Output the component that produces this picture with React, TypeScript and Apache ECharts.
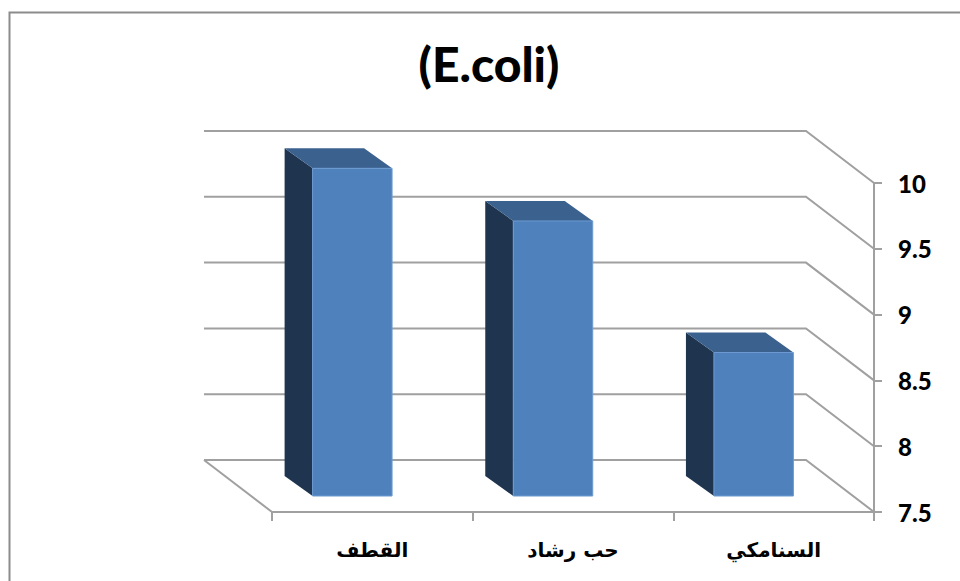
import React, { useEffect, useRef } from "react";
import * as echarts from "echarts";

const titleText = "(E.coli)";
const categories = ["القطف", "حب رشاد", "السنامكي"];
const values = [9.99, 9.59, 8.59];
const wallTicks = [7.5, 8, 8.5, 9, 9.5, 10];
const axisMin = 7.5;
const axisMax = 10;
const axisStep = 0.5;

const GRID = { left: 272, top: 183, width: 602, height: 329 };
const WALL = { dx: -68, dy: -52 };
const BAR_FRONT = { dx: -20, dy: -16 };
const BAR_BACK = { dx: -48, dy: -36 };
const BAR_RATIO = 0.396;
const LINE = "#a0a0a0";
const FRONT = "#4f81bd";
const EDGE = "#6d9ad0";
const SIDE = "#1f344f";
const TOP = "#3b618f";

export default function App() {
  const ref = useRef<HTMLDivElement>(null);
  useEffect(() => {
    document.body.style.margin = "0";
    const chart = echarts.init(ref.current!, null, { renderer: "svg" });
    chart.setOption({
      animation: false,
      backgroundColor: "#ffffff",
      title: {
        text: titleText,
        left: 484,
        top: 34,
        textAlign: "center",
        textStyle: { fontFamily: "Lato", fontWeight: 900, fontSize: 48, color: "#000" },
      },
      graphic: [
        {
          type: "polyline",
          silent: true,
          shape: { points: [[9.5, 581], [9.5, 12.5], [960, 12.5]] },
          style: { stroke: "#8c8c8c", fill: "none", lineWidth: 2 },
        },
      ],
      grid: GRID,
      xAxis: {
        type: "category",
        data: categories,
        axisLine: { lineStyle: { color: LINE, width: 2 } },
        axisTick: { show: true, length: 9, lineStyle: { color: LINE, width: 2 } },
        axisLabel: {
          margin: 28,
          fontFamily: "DejaVu Sans",
          fontWeight: "bold",
          fontSize: 20,
          color: "#000",
        },
        splitLine: { show: false },
      },
      yAxis: {
        type: "value",
        position: "right",
        min: axisMin,
        max: axisMax,
        interval: axisStep,
        axisLine: { show: true, lineStyle: { color: LINE, width: 2 } },
        axisTick: { show: true, length: 8, lineStyle: { color: LINE, width: 2 } },
        axisLabel: {
          margin: 24,
          fontFamily: "Lato",
          fontWeight: 900,
          fontSize: 24,
          color: "#000",
        },
        splitLine: { show: false },
      },
      series: [
        {
          type: "custom",
          silent: true,
          clip: false,
          z: 1,
          data: wallTicks.map((t) => [0, t]),
          encode: { x: 0, y: 1 },
          renderItem: (params: any, api: any) => {
            const y = api.coord([0, api.value(1)])[1];
            const sys = params.coordSys;
            const xL = sys.x + WALL.dx;
            const xR = sys.x + sys.width;
            const points: number[][] = [
              [xL, y + WALL.dy],
              [xR + WALL.dx, y + WALL.dy],
              [xR, y],
            ];
            const children: any[] = [
              { type: "polyline", shape: { points }, style: { stroke: LINE, fill: "none", lineWidth: 2 } },
            ];
            if (api.value(1) === axisMin) {
              children.push({
                type: "line",
                shape: { x1: xL, y1: y + WALL.dy, x2: sys.x, y2: y },
                style: { stroke: LINE, lineWidth: 2 },
              });
            }
            return { type: "group", children };
          },
        },
        {
          type: "custom",
          silent: true,
          clip: false,
          z: 2,
          data: values.map((v, i) => [i, v]),
          encode: { x: 0, y: 1 },
          renderItem: (_params: any, api: any) => {
            const i = api.value(0);
            const [cx, top] = api.coord([i, api.value(1)]);
            const base = api.coord([i, axisMin])[1];
            const w = api.size([1, 0])[0] * BAR_RATIO;
            const l = cx - w / 2 + BAR_FRONT.dx;
            const r = l + w;
            const ft = top + BAR_FRONT.dy;
            const fb = base + BAR_FRONT.dy;
            const bl = cx - w / 2 + BAR_BACK.dx;
            const br = bl + w;
            const bt = top + BAR_BACK.dy;
            const bb = base + BAR_BACK.dy;
            return {
              type: "group",
              children: [
                {
                  type: "polygon",
                  shape: { points: [[bl, bt], [l, ft], [l, fb], [bl, bb]] },
                  style: { fill: SIDE },
                },
                {
                  type: "polygon",
                  shape: { points: [[bl, bt], [br, bt], [r, ft], [l, ft]] },
                  style: { fill: TOP },
                },
                {
                  type: "rect",
                  shape: { x: l, y: ft, width: w, height: fb - ft },
                  style: { fill: FRONT, stroke: EDGE, lineWidth: 1 },
                },
              ],
            };
          },
        },
      ],
    });
    return () => chart.dispose();
  }, []);
  return (
    <div
      ref={ref}
      style={{ position: "absolute", left: 0, top: 0, width: 960, height: 581 }}
    />
  );
}
